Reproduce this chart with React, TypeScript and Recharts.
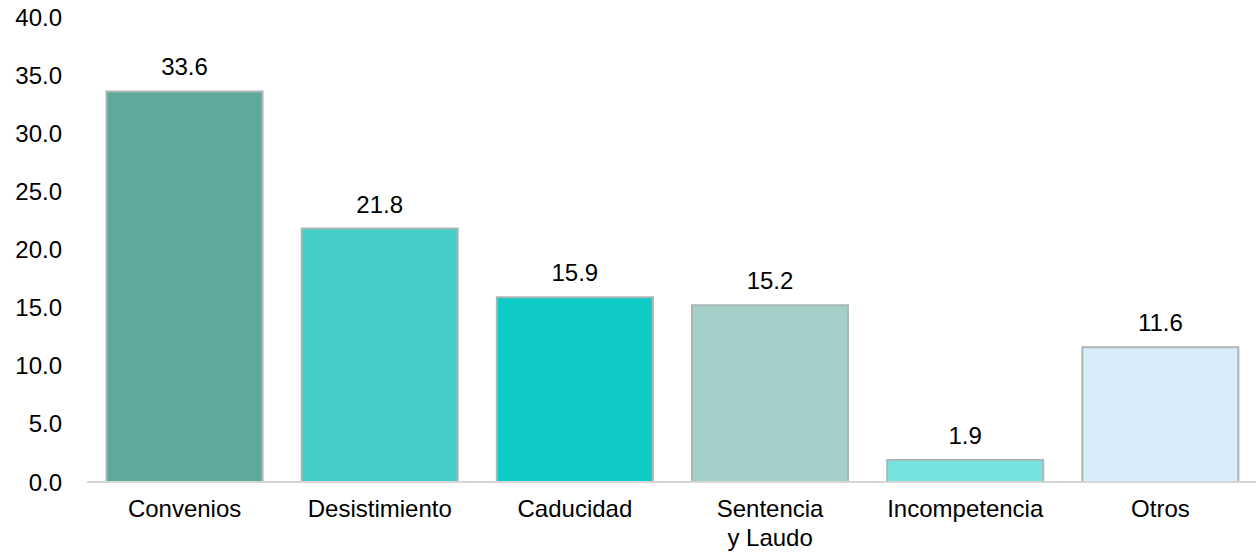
import React from "react";
import { BarChart, Bar, XAxis, YAxis, Cell, LabelList } from "recharts";

const categories = ["Convenios", "Desistimiento", "Caducidad", "Sentencia\ny Laudo", "Incompetencia", "Otros"];
const values = [33.6, 21.8, 15.9, 15.2, 1.9, 11.6];
const colors = ["#5fa89c", "#43cdc9", "#0fcbc6", "#a5d0ca", "#74e4e0", "#daecfa"];
const yTicks = [0, 5, 10, 15, 20, 25, 30, 35, 40];

const data = categories.map((c, i) => ({ name: c, value: values[i] }));

const FONT = "'Liberation Sans', Arial, sans-serif";
const FS = 24;

const CatTick = (props: any) => {
  const { x, y, payload } = props;
  const lines = String(payload.value).split("\n");
  return (
    <text x={x} y={y} textAnchor="middle" fill="#000" fontFamily={FONT} fontSize={FS}>
      {lines.map((l, i) => (
        <tspan key={i} x={x} dy={i === 0 ? "0.71em" : 29}>
          {l}
        </tspan>
      ))}
    </text>
  );
};

export default function App() {
  return (
    <div style={{ position: "absolute", left: 0, top: 0, width: 1256, height: 552, background: "#fff" }}>
      <BarChart
        width={1258}
        height={552}
        data={data}
        margin={{ top: 17, right: 0, bottom: 10, left: 0 }}
        barCategoryGap="10%"
      >
        <XAxis
          dataKey="name"
          tick={<CatTick />}
          tickLine={false}
          tickSize={0}
          tickMargin={18}
          height={60}
          axisLine={{ stroke: "#d6d6d6", strokeWidth: 2 }}
          interval={0}
        />
        <YAxis
          domain={[0, 40]}
          ticks={yTicks}
          width={87}
          axisLine={false}
          tickLine={false}
          tickSize={0}
          tickMargin={25}
          tickFormatter={(v: number) => v.toFixed(1)}
          tick={{ fill: "#000", fontFamily: FONT, fontSize: FS }}
        />
        <Bar dataKey="value" isAnimationActive={false} stroke="#a9b7b5" strokeWidth={2}>
          {data.map((d, i) => (
            <Cell key={i} fill={colors[i]} />
          ))}
          <LabelList
            dataKey="value"
            position="top"
            offset={16}
            formatter={(v: any) => Number(v).toFixed(1)}
            style={{ fill: "#000", fontFamily: FONT, fontSize: FS }}
          />
        </Bar>
      </BarChart>
    </div>
  );
}
